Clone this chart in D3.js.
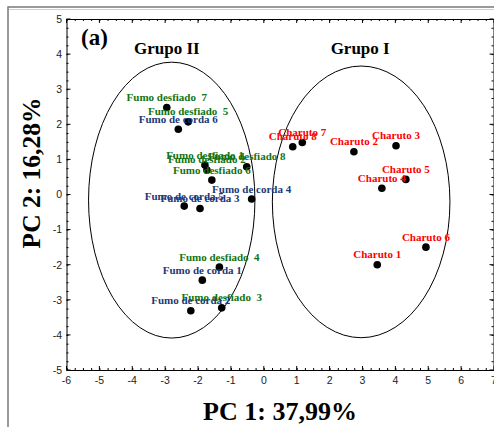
<!DOCTYPE html>
<html><head><meta charset="utf-8">
<script src="https://cdn.jsdelivr.net/npm/d3@7"></script>
<style>body{margin:0;background:#fff;}svg{display:block;}</style>
</head><body>
<svg id="c" width="494" height="427"></svg>
<script>
// ---- data ----
const charutoNames = ["Charuto 1","Charuto 2","Charuto 3","Charuto 4","Charuto 5","Charuto 6","Charuto 7","Charuto 8"];
const charutoPC1 = [3.45, 2.74, 4.02, 3.59, 4.32, 4.93, 1.17, 0.88];
const charutoPC2 = [-2.00, 1.22, 1.39, 0.18, 0.43, -1.50, 1.48, 1.36];

const desfiadoNames = ["Fumo desfiado 1","Fumo desfiado 2","Fumo desfiado  3","Fumo desfiado  4","Fumo desfiado  5","Fumo desfiado 6","Fumo desfiado  7","Fumo desfiado 8"];
const desfiadoPC1 = [-1.79, -1.73, -1.28, -1.35, -2.30, -1.58, -2.95, -0.52];
const desfiadoPC2 = [0.84, 0.70, -3.23, -2.07, 2.07, 0.41, 2.48, 0.79];

const cordaNames = ["Fumo de corda 1","Fumo de corda 2","Fumo de corda 3","Fumo de corda 4","Fumo de corda 5","Fumo de corda 6"];
const cordaPC1 = [-1.87, -2.22, -1.94, -0.37, -2.42, -2.60];
const cordaPC2 = [-2.44, -3.31, -0.40, -0.13, -0.33, 1.86];

const groupNames = ["Grupo II", "Grupo I"];
const groupCX = [-2.80, 2.96];
const groupCY = [-0.16, -0.21];
const groupRX = [2.53, 2.70];
const groupRY = [3.93, 3.87];
const groupLabelX = [-2.95, 2.93];
const groupLabelY = [4.0, 4.0];

const xTicks = [-6,-5,-4,-3,-2,-1,0,1,2,3,4,5,6,7];
const yTicks = [-5,-4,-3,-2,-1,0,1,2,3,4,5];
const xTitle = "PC 1: 37,99%";
const yTitle = "PC 2: 16,28%";
const panelLabel = "(a)";

// ---- drawing ----
const svg = d3.select("#c");
const x = d3.scaleLinear().domain([-6, 7]).range([66.5, 494]);
const y = d3.scaleLinear().domain([-5, 5]).range([370, 19]);

// outer frame
svg.append("rect").attr("x", 8).attr("y", 7).attr("width", 600).attr("height", 600)
  .attr("fill", "none").attr("stroke", "#7a7a7a").attr("stroke-width", 1.5);
svg.append("line").attr("x1", 9).attr("x2", 494).attr("y1", 9.5).attr("y2", 9.5)
  .attr("stroke", "#d0d0d0").attr("stroke-width", 1);

const serif = "'Liberation Serif','Times New Roman',serif";
const sans = "'Liberation Sans',Arial,sans-serif";

// axes
const minorX = d3.range(-6, 7.001, 0.25);
const minorY = d3.range(-5, 5.001, 0.25);
const axB = d3.axisBottom(x).tickValues(minorX).tickSize(-2).tickFormat("");
const axT = d3.axisTop(x).tickValues(minorX).tickSize(-2).tickFormat("");
const axL = d3.axisLeft(y).tickValues(minorY).tickSize(-2).tickFormat("");
const axR = d3.axisRight(y).tickValues(minorY).tickSize(-2).tickFormat("");
const gB = svg.append("g").attr("transform", `translate(0,${y(-5)})`).call(axB);
const gT = svg.append("g").attr("transform", `translate(0,${y(5)})`).call(axT);
const gL = svg.append("g").attr("transform", `translate(${x(-6)},0)`).call(axL);
const gR = svg.append("g").attr("transform", `translate(${x(7)-0.5},0)`).call(axR);
[gB,gT,gL,gR].forEach(g => { g.select(".domain").attr("stroke","#000"); g.selectAll(".tick line").attr("stroke","#000"); });
// major ticks
svg.append("g").selectAll("line").data(xTicks).join("line")
  .attr("x1", d => x(d)).attr("x2", d => x(d)).attr("y1", y(-5)).attr("y2", y(-5) - 4).attr("stroke", "#000");
svg.append("g").selectAll("line").data(xTicks).join("line")
  .attr("x1", d => x(d)).attr("x2", d => x(d)).attr("y1", y(5)).attr("y2", y(5) + 4).attr("stroke", "#000");
svg.append("g").selectAll("line").data(yTicks).join("line")
  .attr("x1", x(-6)).attr("x2", x(-6) + 4).attr("y1", d => y(d)).attr("y2", d => y(d)).attr("stroke", "#000");
svg.append("g").selectAll("line").data(yTicks).join("line")
  .attr("x1", x(7) - 0.5).attr("x2", x(7) - 4.5).attr("y1", d => y(d)).attr("y2", d => y(d)).attr("stroke", "#000");

// tick labels
svg.append("g").selectAll("text").data(xTicks).join("text")
  .attr("x", d => x(d)).attr("y", 384).attr("text-anchor", "middle")
  .attr("font-family", sans).attr("font-size", 10.5).attr("fill", "#222").text(d => d);
svg.append("g").selectAll("text").data(yTicks).join("text")
  .attr("x", 62).attr("y", d => y(d) + 3.8).attr("text-anchor", "end")
  .attr("font-family", sans).attr("font-size", 10.5).attr("fill", "#222").text(d => d);

// axis titles
svg.append("text").attr("x", 280).attr("y", 420).attr("text-anchor", "middle")
  .attr("font-family", serif).attr("font-weight", "bold").attr("font-size", 26).text(xTitle);
svg.append("text").attr("transform", "translate(40,173) rotate(-90)").attr("text-anchor", "middle")
  .attr("font-family", serif).attr("font-weight", "bold").attr("font-size", 25.5).text(yTitle);

// panel label
svg.append("text").attr("x", 81).attr("y", 45).attr("font-family", serif).attr("font-weight", "bold")
  .attr("font-size", 23).text(panelLabel);

// ellipses
svg.append("g").selectAll("ellipse").data(groupNames).join("ellipse")
  .attr("cx", (d,i) => x(groupCX[i])).attr("cy", (d,i) => y(groupCY[i]))
  .attr("rx", (d,i) => x(groupRX[i]) - x(0)).attr("ry", (d,i) => y(0) - y(groupRY[i]))
  .attr("fill", "none").attr("stroke", "#000").attr("stroke-width", 1);
svg.append("g").selectAll("text").data(groupNames).join("text")
  .attr("x", (d,i) => x(groupLabelX[i])).attr("y", (d,i) => y(groupLabelY[i]))
  .attr("text-anchor", "middle").attr("font-family", serif).attr("font-weight", "bold")
  .attr("font-size", 17).text(d => d);

// points + labels
const series = [
  {names: desfiadoNames, xs: desfiadoPC1, ys: desfiadoPC2, color: "#127312"},
  {names: cordaNames, xs: cordaPC1, ys: cordaPC2, color: "#1b3a78"},
  {names: charutoNames, xs: charutoPC1, ys: charutoPC2, color: "#ff0000"}
];
series.forEach(s => {
  const pts = s.names.map((n, i) => ({n, px: s.xs[i], py: s.ys[i]}));
  svg.append("g").selectAll("circle").data(pts).join("circle")
    .attr("cx", d => x(d.px)).attr("cy", d => y(d.py)).attr("r", 3.8).attr("fill", "#000");
});
series.forEach(s => {
  const pts = s.names.map((n, i) => ({n, px: s.xs[i], py: s.ys[i]}));
  svg.append("g").selectAll("text").data(pts).join("text")
    .attr("x", d => x(d.px)).attr("y", d => y(d.py) - 6.5).attr("text-anchor", "middle")
    .attr("font-family", serif).attr("font-weight", "bold").attr("font-size", 11)
    .attr("fill", s.color).style("white-space", "pre").text(d => d.n);
});
</script>
</body></html>
